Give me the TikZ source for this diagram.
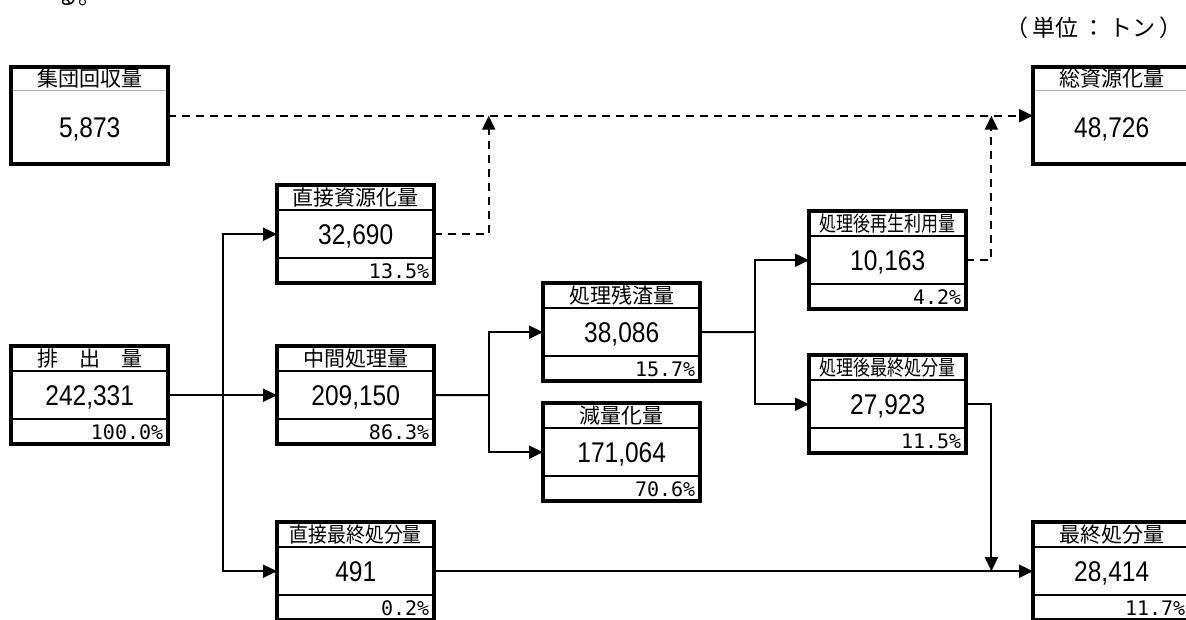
\documentclass[tikz,border=0pt]{standalone}
\usepackage{fontspec}
\setmainfont{Liberation Sans}
\newfontfamily\jpfont{Noto Sans CJK JP}
\newfontfamily\pctfont{DejaVu Sans Mono}
\usetikzlibrary{positioning, arrows.meta, calc}

\newcommand{\hsqueeze}[2]{\scalebox{#1}[1]{#2}}

% three-row box: name, x, y, title, amount, share
\newcommand{\flowbox}[6]{%
  \node[cell, anchor=north west] (#1) at (#2,#3) {};
  \draw[divider] ([yshift=-25pt]#1.north west) -- ([yshift=-25pt]#1.north east);
  \draw[divider] ([yshift=25pt]#1.south west) -- ([yshift=25pt]#1.south east);
  \node[heading] (#1-title) at ([yshift=-12.5pt]#1.north) {#4};
  \node[amount] (#1-value) at (#1.center) {\hsqueeze{0.86}{#5}};
  \node[share, anchor=east] (#1-share) at ([xshift=-5pt,yshift=12pt]#1.south east) {#6};
  \draw[boxframe] (#1.north west) rectangle (#1.south east);
}

% two-row box: name, x, y, title, amount
\newcommand{\totalbox}[5]{%
  \node[cell, minimum height=97pt, anchor=north west] (#1) at (#2,#3) {};
  \draw[lightdivider] ([yshift=-23pt]#1.north west) -- ([yshift=-23pt]#1.north east);
  \node[heading] (#1-title) at ([yshift=-11.5pt]#1.north) {#4};
  \node[amount] (#1-value) at ([yshift=-61pt]#1.north) {\hsqueeze{0.86}{#5}};
  \draw[boxframe] (#1.north west) rectangle (#1.south east);
}

\begin{document}
\begin{tikzpicture}[
  x=1pt, y=-1pt,
  cell/.style={draw=none, inner sep=0pt, minimum width=157pt, minimum height=98pt},
  boxframe/.style={draw=black, line width=4pt},
  divider/.style={draw=black, line width=2pt},
  lightdivider/.style={draw=black!30, line width=1pt},
  heading/.style={inner sep=0pt, font=\jpfont\fontsize{21pt}{21pt}\selectfont},
  amount/.style={inner sep=0pt, text depth=0pt, font=\fontsize{28.5pt}{28.5pt}\selectfont},
  share/.style={inner sep=0pt, text depth=0pt, font=\pctfont\fontsize{20pt}{20pt}\selectfont},
  unitnote/.style={inner sep=0pt, font=\jpfont\fontsize{23pt}{23pt}\selectfont},
  flow/.style={-{Triangle[length=14pt, width=13pt]}, line width=2pt},
  recyc/.style={flow, dash pattern=on 8pt off 6pt},
]
  \useasboundingbox (0,0) rectangle (1186,619);
  \clip (0,0) rectangle (1186,619);

  \node[unitnote, anchor=base west] (fragment) at (55,4) {る。};
  \node[unitnote, anchor=east] (unit) at (1183,28) {（\hspace{4pt}単位\hspace{4pt}：\hspace{4pt}トン\hspace{4pt}）};

  \totalbox{shuudan}{11}{67}{集団回収量}{5,873}
  \totalbox{soshigen}{1033}{67}{総資源化量}{48,726}

  \flowbox{haishutsu}{11}{346}{排　出　量}{242,331}{100.0\%}
  \flowbox{chokushigen}{277}{185}{直接資源化量}{32,690}{13.5\%}
  \flowbox{chukan}{277}{346}{中間処理量}{209,150}{86.3\%}
  \flowbox{chokusaishu}{277}{522}{\hsqueeze{0.9}{直接最終処分量}}{491}{0.2\%}
  \flowbox{zansa}{543}{283}{処理残渣量}{38,086}{15.7\%}
  \flowbox{genryo}{543}{403}{減量化量}{171,064}{70.6\%}
  \flowbox{saisei}{809}{211}{\hsqueeze{0.81}{処理後再生利用量}}{10,163}{4.2\%}
  \flowbox{gosaishu}{809}{355}{\hsqueeze{0.81}{処理後最終処分量}}{27,923}{11.5\%}
  \flowbox{saishu}{1033}{522}{最終処分量}{28,414}{11.7\%}

  \coordinate (fork1) at ($(haishutsu.east)!0.5!(chukan.west)$);
  \coordinate (fork2) at ($(chukan.east)!0.5!(zansa.west |- chukan.east)$);
  \coordinate (fork3) at ($(zansa.east)!0.5!(saisei.west |- zansa.east)$);
  \coordinate (rise1) at ($(chokushigen.east)!0.5!(zansa.west |- chokushigen.east)$);
  \coordinate (rise2) at ([xshift=25pt]saisei.east);

  \draw[flow] (haishutsu.east) -- (chukan.west);
  \draw[flow] (fork1) |- (chokushigen.west);
  \draw[flow] (fork1) |- (chokusaishu.west);

  \draw[line width=2pt] (chukan.east) -- (fork2);
  \draw[flow] (fork2) |- (zansa.west);
  \draw[flow] (fork2) |- (genryo.west);

  \draw[line width=2pt] (zansa.east) -- (fork3);
  \draw[flow] (fork3) |- (saisei.west);
  \draw[flow] (fork3) |- (gosaishu.west);

  \draw[recyc] (shuudan.east) -- (soshigen.west);
  \draw[recyc] (chokushigen.east) -| (rise1 |- shuudan.east);
  \draw[recyc] (saisei.east) -| (rise2 |- shuudan.east);

  \draw[flow] (chokusaishu.east) -- (saishu.west);
  \draw[flow] (gosaishu.east) -| (rise2 |- saishu.west);
\end{tikzpicture}
\end{document}
